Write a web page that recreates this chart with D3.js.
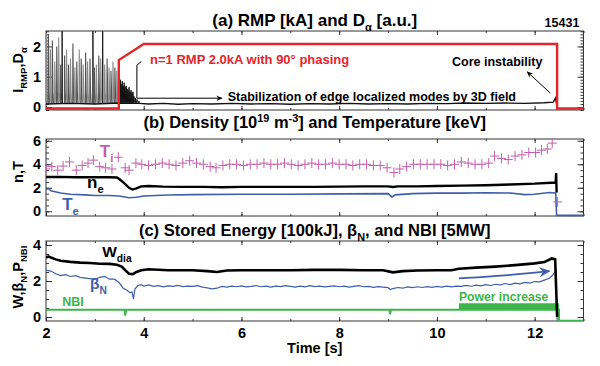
<!DOCTYPE html>
<html>
<head>
<meta charset="utf-8">
<script src="https://cdn.jsdelivr.net/npm/d3@7"></script>
<style>
  body { margin: 0; background: #fff; }
  text { font-family: "Liberation Sans", Arial, sans-serif; font-weight: bold; }
</style>
</head>
<body>
<svg id="chart" width="600" height="366"></svg>
<script>
// ---- data (time in s) ----
var shot = "15431";
var xTicks = [2, 4, 6, 8, 10, 12];

// (a) RMP coil current [kA]
var rmp = [[2.0, -0.05], [3.49, -0.05], [3.49, 1.55], [4.0, 2.08], [12.46, 2.08], [12.46, -0.05], [13.0, -0.05]];
// (a) D-alpha ELM spikes (type-I ELMs, then the mitigated burst)
var elmT = [2.01, 2.05, 2.09, 2.13, 2.18, 2.22, 2.26, 2.30, 2.33, 2.38, 2.42, 2.46, 2.50, 2.55, 2.59, 2.63, 2.68, 2.72, 2.76, 2.81, 2.85, 2.90, 2.96, 2.99, 3.03, 3.08, 3.12, 3.16, 3.20, 3.25, 3.29, 3.33, 3.37, 3.41, 3.45];
var elmH = [2.45, 2.4, 1.9, 2.2, 1.5, 2.0, 2.3, 1.4, 2.5, 1.7, 1.9, 1.4, 1.6, 2.1, 1.3, 1.5, 1.9, 1.6, 1.4, 1.8, 1.5, 1.6, 2.5, 1.3, 1.4, 1.7, 1.6, 2.5, 1.4, 1.6, 1.3, 1.2, 1.5, 1.3, 1.2];
var elmTall = [2.33, 2.96, 3.16];
var burstT = [3.50, 3.52, 3.54, 3.56, 3.58, 3.60, 3.62, 3.64, 3.66, 3.68, 3.70, 3.72, 3.74, 3.76, 3.78, 3.80, 3.83, 3.86, 3.90];
var burstH = [1.0, 0.9, 0.75, 0.85, 0.7, 0.8, 0.65, 0.7, 0.6, 0.55, 0.65, 0.5, 0.55, 0.45, 0.5, 0.35, 0.3, 0.25, 0.2];
var daBase = [[2.0, 0.1], [2.5, 0.12], [3.0, 0.1], [3.5, 0.13], [3.9, 0.12], [4.1, 0.1], [4.4, 0.12], [4.7, 0.09], [5.0, 0.11],
  [5.4, 0.1], [5.8, 0.12], [6.2, 0.1], [6.6, 0.11], [7.0, 0.09], [7.4, 0.11], [7.8, 0.1], [8.2, 0.12], [8.6, 0.1],
  [9.0, 0.11], [9.4, 0.1], [9.8, 0.12], [10.2, 0.11], [10.6, 0.13], [11.0, 0.12], [11.4, 0.13], [11.8, 0.12],
  [12.2, 0.14], [12.38, 0.16], [12.43, 0.3], [12.46, -0.05]];

// (b) ion temperature (CES points), density, electron temperature
var ti = [[2.00, 3.6], [2.12, 3.8], [2.24, 3.5], [2.35, 3.85], [2.48, 4.2], [2.62, 3.5], [2.74, 3.9], [2.86, 4.1], [2.97, 4.35],
  [3.10, 3.8], [3.22, 3.7], [3.35, 3.6], [3.48, 4.6], [3.62, 3.7], [3.70, 3.5], [3.84, 4.1], [3.96, 4.0], [4.10, 3.9],
  [4.24, 4.0], [4.38, 4.1], [4.52, 4.0], [4.66, 3.9], [4.80, 4.1], [4.94, 4.3], [5.08, 4.1], [5.22, 4.0], [5.36, 3.8],
  [5.48, 3.7], [5.62, 3.9], [5.76, 4.0], [5.90, 4.0], [6.04, 3.9], [6.18, 4.0], [6.32, 4.0], [6.46, 4.1], [6.60, 4.0],
  [6.74, 4.0], [6.88, 4.1], [7.02, 4.0], [7.16, 3.9], [7.30, 4.0], [7.44, 4.1], [7.58, 4.0], [7.72, 4.0], [7.86, 4.1],
  [8.00, 4.0], [8.14, 4.0], [8.28, 3.9], [8.42, 4.0], [8.56, 4.0], [8.70, 3.9], [8.84, 3.9], [8.98, 3.7], [9.12, 3.3],
  [9.24, 3.6], [9.38, 3.8], [9.52, 4.0], [9.66, 4.0], [9.80, 4.0], [9.94, 4.0], [10.08, 4.0], [10.22, 3.9], [10.36, 4.0],
  [10.50, 4.2], [10.64, 4.1], [10.78, 4.0], [10.92, 4.0], [11.06, 4.1], [11.18, 4.7], [11.32, 4.5], [11.46, 4.4],
  [11.60, 4.7], [11.74, 4.8], [11.88, 5.0], [12.02, 5.0], [12.14, 5.2], [12.26, 5.3], [12.36, 5.8], [12.47, 0.8]];
var ne = [[2.0, 2.92], [2.3, 2.93], [2.6, 2.9], [3.0, 2.9], [3.3, 2.9], [3.45, 2.88], [3.5, 2.75], [3.6, 2.4], [3.7, 2.0],
  [3.77, 1.85], [3.85, 1.95], [3.95, 2.12], [4.1, 2.15], [4.4, 2.1], [4.8, 2.08], [5.2, 2.08], [5.6, 2.05], [6.0, 2.08],
  [6.5, 2.08], [7.0, 2.08], [7.5, 2.08], [8.0, 2.1], [8.5, 2.12], [9.0, 2.12], [9.1, 2.07], [9.2, 2.12], [9.6, 2.12],
  [10.0, 2.15], [10.5, 2.18], [11.0, 2.22], [11.5, 2.28], [12.0, 2.35], [12.43, 2.45], [12.44, 3.25], [12.45, 1.6]];
var te = [[2.0, 1.85], [2.05, 1.95], [2.1, 1.75], [2.3, 1.55], [2.5, 1.45], [2.8, 1.4], [3.0, 1.35], [3.3, 1.35], [3.5, 1.3],
  [3.7, 1.15], [3.85, 1.2], [4.0, 1.3], [4.5, 1.38], [5.0, 1.42], [6.0, 1.45], [7.0, 1.45], [8.0, 1.48], [9.0, 1.5],
  [9.08, 1.22], [9.15, 1.4], [9.5, 1.5], [10.0, 1.55], [10.5, 1.55], [11.0, 1.58], [11.5, 1.55], [11.8, 1.42],
  [12.0, 1.45], [12.3, 1.6], [12.43, 1.55], [12.45, -0.35], [13.0, -0.35]];

// (c) stored energy [100 kJ], beta_N, NBI [5 MW]
var wdia = [[2.0, 3.3], [2.05, 3.36], [2.1, 3.3], [2.2, 3.2], [2.3, 3.12], [2.5, 3.06], [2.7, 3.02], [2.9, 3.0], [3.1, 2.96],
  [3.3, 2.95], [3.45, 2.9], [3.55, 2.8], [3.62, 2.6], [3.7, 2.4], [3.78, 2.38], [3.85, 2.5], [3.95, 2.6], [4.1, 2.65],
  [4.5, 2.6], [5.0, 2.6], [5.3, 2.55], [5.5, 2.5], [5.7, 2.58], [6.0, 2.6], [6.5, 2.6], [7.0, 2.6], [7.5, 2.62],
  [8.0, 2.62], [8.5, 2.6], [8.9, 2.6], [9.1, 2.48], [9.3, 2.55], [9.6, 2.58], [10.0, 2.6], [10.3, 2.6], [10.45, 2.68],
  [10.8, 2.74], [11.2, 2.8], [11.6, 2.88], [12.0, 2.98], [12.2, 3.05], [12.35, 3.25], [12.42, 3.2], [12.46, 0.0]];
var betaN = [[2.0, 2.6], [2.1, 2.55], [2.2, 2.4], [2.3, 2.3], [2.4, 2.35], [2.5, 2.25], [2.6, 2.3], [2.7, 2.2], [2.85, 2.15],
  [3.0, 2.1], [3.1, 2.2], [3.2, 2.25], [3.3, 2.1], [3.4, 2.1], [3.5, 1.9], [3.58, 1.6], [3.65, 1.5], [3.72, 1.35],
  [3.76, 1.4], [3.79, 1.0], [3.82, 1.55], [3.88, 1.75], [3.95, 1.8], [4.0, 1.72], [4.1, 1.78], [4.2, 1.7], [4.3, 1.74],
  [4.4, 1.68], [4.5, 1.73], [4.6, 1.7], [4.7, 1.76], [4.8, 1.69], [4.9, 1.72], [5.0, 1.7], [5.1, 1.74], [5.2, 1.66],
  [5.3, 1.62], [5.4, 1.56], [5.5, 1.6], [5.6, 1.7], [5.7, 1.66], [5.8, 1.72], [5.9, 1.68], [6.0, 1.73], [6.1, 1.67],
  [6.2, 1.7], [6.3, 1.75], [6.4, 1.68], [6.5, 1.71], [6.6, 1.66], [6.7, 1.72], [6.8, 1.69], [6.9, 1.74], [7.0, 1.7],
  [7.1, 1.66], [7.2, 1.72], [7.3, 1.68], [7.4, 1.74], [7.5, 1.69], [7.6, 1.72], [7.7, 1.67], [7.8, 1.7], [7.9, 1.73],
  [8.0, 1.68], [8.1, 1.71], [8.2, 1.66], [8.3, 1.7], [8.4, 1.74], [8.5, 1.68], [8.6, 1.7], [8.7, 1.65], [8.8, 1.69],
  [8.9, 1.66], [9.0, 1.63], [9.05, 1.52], [9.1, 1.58], [9.2, 1.64], [9.3, 1.6], [9.4, 1.67], [9.5, 1.63], [9.6, 1.68],
  [9.7, 1.64], [9.8, 1.69], [9.9, 1.65], [10.0, 1.7], [10.1, 1.66], [10.2, 1.71], [10.3, 1.67], [10.4, 1.72], [10.5, 1.7],
  [10.6, 1.76], [10.7, 1.71], [10.8, 1.77], [10.9, 1.73], [11.0, 1.8], [11.1, 1.75], [11.2, 1.82], [11.3, 1.78],
  [11.4, 1.86], [11.5, 1.8], [11.6, 1.88], [11.7, 1.84], [11.8, 1.92], [11.9, 1.88], [12.0, 1.97], [12.1, 1.95],
  [12.2, 2.05], [12.3, 2.15], [12.38, 2.35], [12.43, 2.6], [12.46, -0.2]];
var nbi = [[2.0, 0.4], [3.61, 0.4], [3.62, 0.08], [3.64, 0.4], [9.03, 0.4], [9.04, 0.15], [9.06, 0.4], [10.45, 0.4],
  [12.5, 0.4], [12.5, -0.2], [13.0, -0.2]];
var nbiBand = [[10.45, 0.4, 0.76], [12.5, 0.4, 0.76]];
var trendArrow = [[10.45, 2.15], [11.4, 2.3], [12.3, 2.55]];

// ---- layout ----
var svg = d3.select("#chart");
var x = d3.scaleLinear().domain([2, 13]).range([46, 583.5]);
var yA = d3.scaleLinear().domain([-0.1, 2.51]).range([110, 31]);
var yB = d3.scaleLinear().domain([-0.4, 6.15]).range([216, 139]);
var yC = d3.scaleLinear().domain([-0.22, 4.22]).range([321, 241]);

var red = "#e3262b", blue = "#3f5eab", green = "#3db54a", magenta = "#c45dab", frame = "#333";

var defs = svg.append("defs");
function marker(id, color) {
  defs.append("marker").attr("id", id).attr("viewBox", "0 0 10 10").attr("refX", 8).attr("refY", 5)
    .attr("markerWidth", 7).attr("markerHeight", 7).attr("orient", "auto")
    .append("path").attr("d", "M0,1 L9,5 L0,9 L3,5 Z").attr("fill", color);
}
marker("arrK", "#000");
marker("arrB", blue);

// text with sub/superscripts
function rich(t, parts, fs) {
  var off = 0;
  parts.forEach(function(p) {
    var want = p[1] === "sub" ? fs * 0.3 : p[1] === "sup" ? -fs * 0.38 : 0;
    t.append("tspan").attr("dy", want - off).attr("font-size", p[1] ? fs * 0.66 : fs).text(p[0]);
    off = want;
  });
}

function panel(y, majors, minorStep, showX) {
  var g = svg.append("g");
  var y0 = y.range()[0], y1 = y.range()[1];
  var dom = y.domain();
  var minors = d3.range(Math.ceil(dom[0] / minorStep) * minorStep, dom[1], minorStep);
  var xMinor = d3.range(2, 13.01, 1);

  function ax(gen, tr) {
    var a = g.append("g").attr("transform", tr).call(gen);
    a.select(".domain").remove();
    a.selectAll("line").attr("stroke", frame);
    a.selectAll("text").attr("font-size", 14.5).attr("fill", "#000").style("font-family", null);
    return a;
  }
  ax(d3.axisLeft(y).tickValues(minors).tickSize(-3).tickFormat(""), "translate(" + x.range()[0] + ",0)");
  ax(d3.axisLeft(y).tickValues(majors).tickSize(-6).tickPadding(5).tickFormat(d3.format("d")), "translate(" + x.range()[0] + ",0)");
  ax(d3.axisRight(y).tickValues(minors).tickSize(-3).tickFormat(""), "translate(" + x.range()[1] + ",0)");
  ax(d3.axisRight(y).tickValues(majors).tickSize(-6).tickFormat(""), "translate(" + x.range()[1] + ",0)");
  ax(d3.axisTop(x).tickValues(xMinor).tickSize(-2).tickFormat(""), "translate(0," + y1 + ")");
  ax(d3.axisTop(x).tickValues(xTicks).tickSize(-4).tickFormat(""), "translate(0," + y1 + ")");
  ax(d3.axisBottom(x).tickValues(xMinor).tickSize(-2).tickFormat(""), "translate(0," + y0 + ")");
  ax(d3.axisBottom(x).tickValues(xTicks).tickSize(-4).tickPadding(7).tickFormat(showX ? d3.format("d") : ""), "translate(0," + y0 + ")");

  g.append("rect").attr("x", x.range()[0]).attr("y", y1)
    .attr("width", x.range()[1] - x.range()[0]).attr("height", y0 - y1)
    .attr("fill", "none").attr("stroke", frame).attr("stroke-width", 1);
  return g;
}

var clipA = defs.append("clipPath").attr("id", "clipAll");
clipA.append("rect").attr("x", 46).attr("y", 31).attr("width", 538).attr("height", 290);

function line(y) { return d3.line().x(function(d) { return x(d[0]); }).y(function(d) { return y(d[1]); }); }

// ---- (a) ----
panel(yA, [0, 1, 2], 0.1, false);
var pa = svg.append("g").attr("clip-path", "url(#clipAll)");
elmT.forEach(function(t, i) {
  var h = elmH[i];
  var tall = elmTall.indexOf(t) >= 0;
  var pts = tall ? [[t, 0.1], [t, h], [t + 0.004, 0.12]]
                 : [[t - 0.004, 0.1], [t, h], [t + 0.012, 0.5], [t + 0.025, 0.12]];
  pa.append("path").datum(pts).attr("d", line(yA)).attr("fill", "none")
    .attr("stroke", tall ? "#111" : (i % 2 ? "#555" : "#8a8a8a")).attr("stroke-width", tall ? 0.9 : 1.1);
});
burstT.forEach(function(t, i) {
  pa.append("path").datum([[t - 0.004, 0.12], [t, burstH[i]], [t + 0.01, 0.15]]).attr("d", line(yA))
    .attr("fill", "none").attr("stroke", "#111").attr("stroke-width", 1);
});
pa.append("path").datum(daBase).attr("d", line(yA)).attr("fill", "none").attr("stroke", "#111").attr("stroke-width", 1.4);
pa.append("path").datum(rmp).attr("d", line(yA)).attr("fill", "none").attr("stroke", red).attr("stroke-width", 2.4);

svg.append("text").attr("x", x(4.13)).attr("y", yA(1.42)).attr("fill", red).attr("font-size", 13)
  .text("n=1 RMP 2.0kA with 90\u00b0 phasing");
svg.append("path").datum([[3.95, 1.5], [3.86, 1.38], [3.86, 0.29], [5.6, 0.29]]).attr("d", line(yA))
  .attr("fill", "none").attr("stroke", "#000").attr("stroke-width", 1).attr("marker-end", "url(#arrK)");
svg.append("text").attr("x", x(5.72)).attr("y", yA(0.2)).attr("font-size", 12.5)
  .text("Stabilization of edge localized modes by 3D field");
svg.append("text").attr("x", x(10.31)).attr("y", yA(1.34)).attr("font-size", 12.5).text("Core instability");
svg.append("path").datum([[12.32, 0.46], [11.85, 1.16]]).attr("d", line(yA))
  .attr("fill", "none").attr("stroke", "#000").attr("stroke-width", 1).attr("marker-end", "url(#arrK)");
svg.append("text").attr("x", x(12.56)).attr("y", yA(2.64)).attr("text-anchor", "middle").attr("font-size", 12.5).text(shot);

// ---- (b) ----
panel(yB, [0, 2, 4, 6], 0.5, false);
var pb = svg.append("g").attr("clip-path", "url(#clipAll)");
pb.append("path").datum(te).attr("d", line(yB)).attr("fill", "none").attr("stroke", blue).attr("stroke-width", 1.6);
pb.append("path").datum(ne).attr("d", line(yB)).attr("fill", "none").attr("stroke", "#000").attr("stroke-width", 2.4);
pb.selectAll(".ti").data(ti).enter().append("path").attr("class", "ti")
  .attr("d", function(d) {
    var cx = x(d[0]), cy = yB(d[1]);
    return "M" + (cx - 4.5) + "," + cy + "H" + (cx + 4.5) + "M" + cx + "," + (cy - 5) + "V" + (cy + 5);
  })
  .attr("stroke", magenta).attr("stroke-width", 1).attr("fill", "none");

rich(svg.append("text").attr("x", x(3.1)).attr("y", yB(4.63)).attr("fill", magenta), [["T"], ["i", "sub"]], 17);
rich(svg.append("text").attr("x", x(2.84)).attr("y", yB(1.97)), [["n"], ["e", "sub"]], 17);
rich(svg.append("text").attr("x", x(2.33)).attr("y", yB(0.09)).attr("fill", blue), [["T"], ["e", "sub"]], 17);

// ---- (c) ----
panel(yC, [0, 2, 4], 0.5, true);
var pc = svg.append("g").attr("clip-path", "url(#clipAll)");
pc.append("path").datum(nbiBand)
  .attr("d", d3.area().x(function(d) { return x(d[0]); }).y0(function(d) { return yC(d[1]); }).y1(function(d) { return yC(d[2]); }))
  .attr("fill", green);
pc.append("path").datum(nbi).attr("d", line(yC)).attr("fill", "none").attr("stroke", green).attr("stroke-width", 2);
pc.append("path").datum(betaN).attr("d", line(yC)).attr("fill", "none").attr("stroke", blue).attr("stroke-width", 1.2);
pc.append("path").datum(wdia).attr("d", line(yC)).attr("fill", "none").attr("stroke", "#000").attr("stroke-width", 2.6);
svg.append("path").datum(trendArrow).attr("d", line(yC).curve(d3.curveBasis)).attr("fill", "none")
  .attr("stroke", blue).attr("stroke-width", 1.8).attr("marker-end", "url(#arrB)");

rich(svg.append("text").attr("x", x(3.15)).attr("y", yC(3.33)), [["W"], ["dia", "sub"]], 15.5);
rich(svg.append("text").attr("x", x(2.9)).attr("y", yC(1.55)).attr("fill", blue), [["\u03b2"], ["N", "sub"]], 15.5);
svg.append("text").attr("x", x(2.33)).attr("y", yC(0.61)).attr("fill", green).attr("font-size", 12.5).text("NBI");
svg.append("text").attr("x", x(10.45)).attr("y", yC(0.89)).attr("fill", green).attr("font-size", 12.2).text("Power increase");

// ---- titles and axis labels ----
var cx = (x.range()[0] + x.range()[1]) / 2;
rich(svg.append("text").attr("x", cx).attr("y", 26).attr("text-anchor", "middle"),
  [["(a) RMP [kA] and D"], ["\u03b1", "sub"], [" [a.u.]"]], 17);
rich(svg.append("text").attr("x", cx).attr("y", 128).attr("text-anchor", "middle"),
  [["(b) Density [10"], ["19", "sup"], [" m"], ["-3", "sup"], ["] and Temperature [keV]"]], 16.5);
rich(svg.append("text").attr("x", cx).attr("y", 236).attr("text-anchor", "middle"),
  [["(c) Stored Energy [100kJ], \u03b2"], ["N", "sub"], [", and NBI [5MW]"]], 16.5);
svg.append("text").attr("x", cx).attr("y", 353).attr("text-anchor", "middle").attr("font-size", 14.5).text("Time [s]");

function ylab(yc, parts) {
  rich(svg.append("text").attr("transform", "translate(23," + yc + ") rotate(-90)").attr("text-anchor", "middle"), parts, 14.5);
}
ylab(70, [["I"], ["RMP", "sub"], [",D"], ["\u03b1", "sub"]]);
ylab(172, [["n,T"]]);
ylab(277, [["W,\u03b2"], ["N", "sub"], [",P"], ["NBI", "sub"]]);
</script>
</body>
</html>
